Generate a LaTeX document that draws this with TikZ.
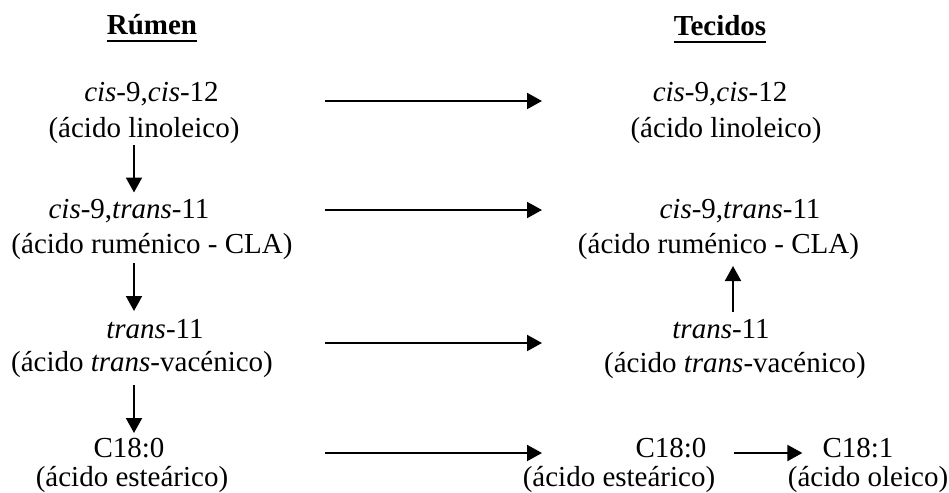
\documentclass[tikz,border=0pt]{standalone}
\usepackage{fontspec}
\setmainfont{Liberation Serif}
\usetikzlibrary{arrows.meta,calc}
\begin{document}
\begin{tikzpicture}[x=1pt,y=-1pt,
  txt/.style={inner sep=0pt,anchor=base,font=\fontsize{29pt}{34pt}\selectfont},
  hdr/.style={inner sep=0pt,anchor=base,font=\fontsize{29pt}{34pt}\selectfont\bfseries},
  arr/.style={line width=2pt,-{Triangle[length=15pt,width=16pt]}},
  uline/.style={line width=2pt}]
\useasboundingbox (0,0) rectangle (949,492);
% column guides
\coordinate (lx) at (134,0);
\coordinate (rx) at (733,0);
\coordinate (hs) at (325,0);
\coordinate (he) at (542,0);
% headers
\node[hdr] (H1) at (152,35) {Rúmen};
\node[hdr] (H2) at (720,36) {Tecidos};
\draw[uline] ($(H1.base west)+(0,6)$) -- ($(H1.base east)+(0,6)$);
\draw[uline] ($(H2.base west)+(0,6)$) -- ($(H2.base east)+(0,6)$);
% left column
\node[txt] (L1a) at (151.5,102) {\textit{cis}-9,\textit{cis}-12};
\node[txt] (L1b) at (144,137) {(ácido linoleico)};
\node[txt] (L2a) at (129,218) {\textit{cis}-9,\textit{trans}-11};
\node[txt] (L2b) at (152,253) {(ácido ruménico - CLA)};
\node[txt] (L3a) at (155,338) {\textit{trans}-11};
\node[txt] (L3b) at (142,371) {(ácido \textit{trans}-vacénico)};
\node[txt] (L4a) at (129,457) {C18:0};
\node[txt] (L4b) at (132,486) {(ácido esteárico)};
% right column
\node[txt] (R1a) at (720,102) {\textit{cis}-9,\textit{cis}-12};
\node[txt] (R1b) at (726,137) {(ácido linoleico)};
\node[txt] (R2a) at (740,218) {\textit{cis}-9,\textit{trans}-11};
\node[txt] (R2b) at (718.5,253) {(ácido ruménico - CLA)};
\node[txt] (R3a) at (721,338) {\textit{trans}-11};
\node[txt] (R3b) at (735,372) {(ácido \textit{trans}-vacénico)};
\node[txt] (R4a) at (671,457) {C18:0};
\node[txt] (R4b) at (619,486) {(ácido esteárico)};
\node[txt] (R4c) at (858,457) {C18:1};
\node[txt] (R4d) at (868,486) {(ácido oleico)};
% vertical arrows (rumen)
\draw[arr] ($(L1b.base -| lx)+(0,8)$) -- ($(L2a.base -| lx)+(0,-25.5)$);
\draw[arr] ($(L2b.base -| lx)+(0,10)$) -- ($(L3a.base -| lx)+(0,-27)$);
\draw[arr] ($(L3b.base -| lx)+(0,14)$) -- ($(L4a.base -| lx)+(0,-24)$);
% horizontal arrows
\draw[arr] ($(L1a.base -| hs)+(0,-1)$) -- ($(R1a.base -| he)+(0,-1)$);
\draw[arr] ($(L2a.base -| hs)+(0,-8)$) -- ($(R2a.base -| he)+(0,-8)$);
\draw[arr] ($(L3a.base -| hs)+(0,5)$) -- ($(R3a.base -| he)+(0,5)$);
\draw[arr] ($(L4a.base -| hs)+(0,-4)$) -- ($(R4a.base -| he)+(0,-4)$);
% tissue arrows
\draw[arr] ($(R3a.base -| rx)+(0,-26)$) -- ($(R2b.base -| rx)+(0,13)$);
\draw[arr] ($(R4a.base east)+(27,-4)$) -- ($(R4c.base west)+(-20,-4)$);
\end{tikzpicture}
\end{document}
